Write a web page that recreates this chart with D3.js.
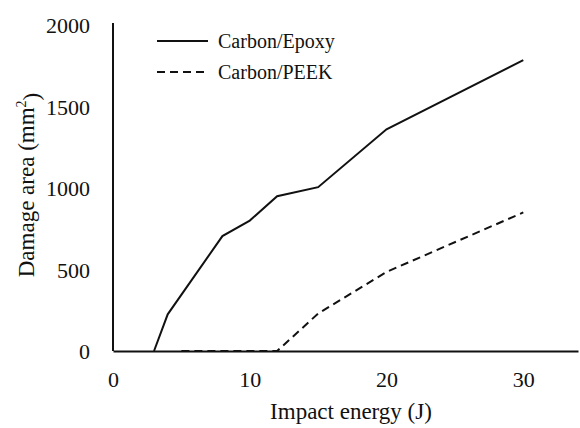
<!DOCTYPE html>
<html>
<head>
<meta charset="utf-8">
<script src="https://cdn.jsdelivr.net/npm/d3@7"></script>
<style>
  body { margin: 0; background: #fff; }
  text { font-family: "Liberation Serif", "Times New Roman", serif; fill: #111; }
</style>
</head>
<body>
<svg width="580" height="428"></svg>
<script>
// impact energy (J) and damage area (mm2)
var epoxyEnergy = [3, 4, 8, 10, 12, 15, 20, 30];
var epoxyArea   = [0, 225, 705, 800, 950, 1005, 1360, 1785];
var peekEnergy  = [5, 8, 10, 12, 15, 20, 30];
var peekArea    = [0, 0, 0, 0, 230, 485, 850];
var xTicks = [0, 10, 20, 30];
var yTicks = [0, 500, 1000, 1500, 2000];
var seriesNames = ['Carbon/Epoxy', 'Carbon/PEEK'];

var svg = d3.select('svg');

var x = d3.scaleLinear().domain([0, 34]).range([113, 578]);
var y = d3.scaleLinear().domain([0, 2000]).range([351, 25]);

function zip(xs, ys) {
  return xs.map(function(d, i) { return [d, ys[i]]; });
}
var series = [
  { name: seriesNames[0], values: zip(epoxyEnergy, epoxyArea), dash: null },
  { name: seriesNames[1], values: zip(peekEnergy, peekArea), dash: '8,5' }
];

// axes
var xAxis = svg.append('g')
  .attr('transform', 'translate(0,' + y(0) + ')')
  .call(d3.axisBottom(x).tickValues(xTicks).tickFormat(d3.format('d'))
    .tickSize(0).tickPadding(20));
var yAxis = svg.append('g')
  .attr('transform', 'translate(' + x(0) + ',0)')
  .call(d3.axisLeft(y).tickValues(yTicks).tickFormat(d3.format('d'))
    .tickSize(0).tickPadding(23));

[xAxis, yAxis].forEach(function(a) {
  a.select('.domain').attr('stroke', '#111').attr('stroke-width', 2);
  a.selectAll('text').style('font-size', '22px')
    .style('font-family', '"Liberation Serif", serif').attr('fill', '#111');
});
yAxis.selectAll('text').attr('dy', '0.35em');
yAxis.select('.domain').attr('d', 'M0,' + y(0) + 'V' + (y(2000) - 2));

// lines
var line = d3.line()
  .x(function(d) { return x(d[0]); })
  .y(function(d) { return y(d[1]); });

svg.selectAll('path.series')
  .data(series)
  .enter().append('path')
  .attr('class', 'series')
  .attr('d', function(d) { return line(d.values); })
  .attr('fill', 'none')
  .attr('stroke', '#111')
  .attr('stroke-width', 2)
  .attr('stroke-dasharray', function(d) { return d.dash; });

// legend
var legend = svg.selectAll('g.legend')
  .data(series)
  .enter().append('g')
  .attr('class', 'legend')
  .attr('transform', function(d, i) { return 'translate(157,' + (41 + i * 31) + ')'; });
legend.append('line')
  .attr('x1', 0).attr('x2', 51)
  .attr('stroke', '#111').attr('stroke-width', 2)
  .attr('stroke-dasharray', function(d) { return d.dash; });
legend.append('text')
  .attr('x', 61).attr('dy', '0.35em')
  .style('font-size', '20px')
  .text(function(d) { return d.name; });

// axis titles
svg.append('text')
  .attr('x', 351).attr('y', 419)
  .attr('text-anchor', 'middle')
  .style('font-size', '23px')
  .text('Impact energy (J)');

var yt = svg.append('text')
  .attr('transform', 'translate(34,185) rotate(-90)')
  .attr('text-anchor', 'middle')
  .style('font-size', '23px');
yt.append('tspan').text('Damage area (mm');
yt.append('tspan').attr('dy', '-0.6em').style('font-size', '14px').text('2');
yt.append('tspan').attr('dy', '0.6em').text(')');
</script>
</body>
</html>
